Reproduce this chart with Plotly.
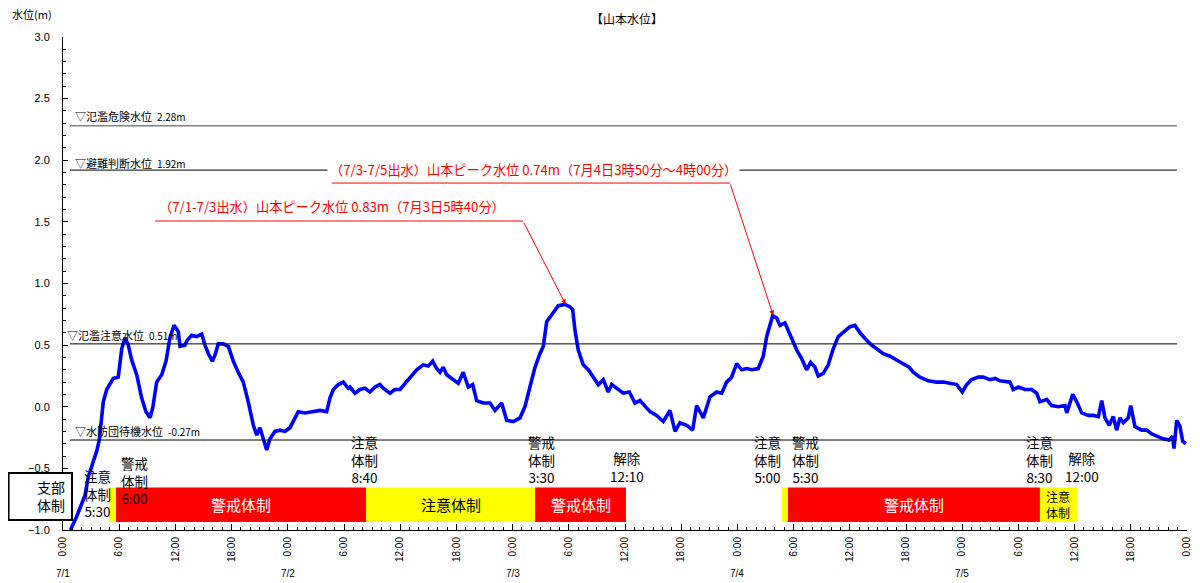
import plotly.graph_objects as go

# ---- water level series (hours since 7/1 0:00, metres) ----
hours = [0.75, 0.85, 1.46, 2.35, 2.70, 3.23, 3.60, 3.88, 4.13, 4.30, 4.67, 5.02, 5.37, 5.90, 6.27, 6.62, 6.97,
         7.33, 7.87, 8.40, 8.86, 9.29, 9.58, 10.00, 10.54, 11.00, 11.42, 11.85, 12.31, 12.49, 13.02, 13.27,
         13.74, 14.27, 14.81, 15.16, 15.52, 15.94, 16.23, 16.58, 17.11, 17.65, 18.18, 18.71, 19.25, 19.78,
         20.32, 20.68, 21.03, 21.38, 21.75, 22.10, 22.63, 23.17, 23.70, 24.23, 24.59, 25.12, 25.84, 26.72,
         27.44, 28.15, 28.50, 28.86, 29.39, 29.93, 30.46, 30.64, 31.17, 31.71, 32.24, 32.77, 33.31, 33.84,
         34.19, 34.91, 35.44, 35.98, 36.51, 37.04, 37.76, 38.46, 39.00, 39.47, 39.89, 40.25, 40.60, 40.96,
         41.67, 42.20, 42.73, 43.27, 43.74, 44.16, 44.87, 45.58, 46.12, 46.83, 47.37, 48.07, 48.79, 49.32,
         49.85, 50.39, 50.92, 51.28, 51.64, 52.34, 52.88, 53.59, 54.13, 54.41, 54.66, 55.01, 55.54, 56.08,
         56.61, 57.15, 57.68, 58.21, 58.58, 59.11, 59.82, 60.46, 61.07, 61.60, 62.13, 62.67, 63.38, 64.09,
         64.80, 65.34, 65.87, 66.58, 67.22, 67.65, 68.36, 69.07, 69.78, 70.32, 70.85, 71.38, 71.92, 72.45,
         72.99, 73.52, 74.23, 74.76, 75.13, 75.77, 76.19, 76.55, 77.08, 77.61, 77.96, 78.33, 78.86, 79.39,
         79.82, 80.28, 80.63, 81.17, 81.70, 82.23, 82.77, 83.48, 84.02, 84.55, 85.09, 85.80, 86.33, 86.87,
         87.57, 88.29, 89.00, 89.71, 90.35, 90.77, 91.49, 92.37, 93.27, 93.98, 94.69, 95.41, 96.01, 96.48,
         97.01, 97.72, 98.25, 98.97, 99.50, 100.03, 101.10, 101.45, 101.99, 102.70, 103.42, 103.95, 104.30,
         105.02, 105.55, 106.26, 106.98, 107.16, 107.80, 108.23, 108.76, 109.47, 110.00, 110.54, 110.90,
         111.24, 111.70, 112.13, 112.49, 112.84, 113.20, 113.73, 113.99, 114.44, 115.16, 115.69, 116.23,
         116.76, 117.47, 118.11, 118.47, 118.61, 118.90, 119.25, 119.54, 119.89]
level = [-1.00, -0.99, -0.89, -0.72, -0.57, -0.45, -0.36, -0.27, -0.12, 0.04, 0.14, 0.18, 0.23, 0.24, 0.47, 0.56, 0.50,
         0.38, 0.26, 0.07, -0.04, -0.09, -0.01, 0.20, 0.26, 0.37, 0.56, 0.66, 0.61, 0.49, 0.50, 0.54,
         0.58, 0.57, 0.59, 0.50, 0.43, 0.37, 0.42, 0.51, 0.51, 0.49, 0.37, 0.28, 0.20, 0.04,
         -0.15, -0.23, -0.17, -0.26, -0.35, -0.26, -0.20, -0.19, -0.20, -0.17, -0.12, -0.04, -0.05, -0.04,
         -0.03, -0.04, 0.07, 0.14, 0.18, 0.20, 0.15, 0.16, 0.11, 0.14, 0.15, 0.12, 0.16, 0.18,
         0.15, 0.11, 0.14, 0.14, 0.19, 0.24, 0.30, 0.34, 0.33, 0.37, 0.31, 0.28, 0.32, 0.26,
         0.22, 0.19, 0.28, 0.16, 0.18, 0.05, 0.03, 0.03, -0.03, 0.03, -0.11, -0.12, -0.09, 0.00,
         0.16, 0.32, 0.43, 0.49, 0.69, 0.76, 0.82, 0.83, 0.81, 0.79, 0.62, 0.46, 0.34, 0.30,
         0.24, 0.18, 0.22, 0.12, 0.18, 0.15, 0.11, 0.12, 0.03, 0.05, 0.01, -0.04, -0.07, -0.12,
         -0.03, -0.20, -0.13, -0.15, -0.19, 0.01, -0.09, 0.08, 0.12, 0.11, 0.20, 0.24, 0.35, 0.30,
         0.31, 0.30, 0.31, 0.41, 0.57, 0.74, 0.72, 0.66, 0.68, 0.58, 0.53, 0.46, 0.39, 0.30,
         0.36, 0.32, 0.25, 0.27, 0.34, 0.47, 0.57, 0.62, 0.65, 0.66, 0.60, 0.54, 0.50, 0.47,
         0.43, 0.41, 0.38, 0.35, 0.32, 0.28, 0.24, 0.21, 0.20, 0.20, 0.19, 0.18, 0.12, 0.18,
         0.22, 0.24, 0.24, 0.22, 0.23, 0.21, 0.20, 0.14, 0.16, 0.14, 0.14, 0.11, 0.04,
         0.06, 0.01, 0.00, 0.01, -0.05, 0.10, 0.04, -0.05, -0.07, -0.07, -0.08, 0.05,
         -0.09, -0.15, -0.08, -0.19, -0.09, -0.13, -0.09, 0.01, -0.16, -0.19, -0.19, -0.22,
         -0.24, -0.26, -0.27, -0.24, -0.34, -0.11, -0.16, -0.28, -0.30]

# ---- reference levels ----
ref_levels = [2.28, 1.92, 0.51, -0.27]
ref_names = ["▽氾濫危険水位", "▽避難判断水位", "▽氾濫注意水位", "▽水防団待機水位"]
ref_value_text = ["2.28m", "1.92m", "0.51m", "-0.27m"]
ref_colors = ["#808080", "#000000", "#000000", "#000000"]

# ---- peaks ----
peak_hours = [53.67, 75.83]
peak_levels = [0.83, 0.74]
peak_texts = ["（7/1-7/3出水）山本ピーク水位 0.83m（7月3日5時40分）",
              "（7/3-7/5出水）山本ピーク水位 0.74m（7月4日3時50分～4時00分）"]

# ---- response regime bars ----
regime_start = [4.9, 5.66, 32.35, 50.4, 76.76, 77.4, 104.3]
regime_end = [5.66, 32.35, 50.4, 60.1, 77.4, 104.3, 108.25]
regime_type = ["注意", "警戒", "注意", "警戒", "注意", "警戒", "注意"]
regime_label = ["", "警戒体制", "注意体制", "警戒体制", "", "警戒体制", "注意<br>体制"]

# ---- event labels ----
event_texts = ["注意<br>体制<br>5:30", "警戒<br>体制<br>6:00", "注意<br>体制<br>8:40", "警戒<br>体制<br>3:30",
               "解除<br>12:10", "注意<br>体制<br>5:00", "警戒<br>体制<br>5:30", "注意<br>体制<br>8:30",
               "解除<br>12:00"]
event_hours = [3.63, 7.69, 32.24, 51.14, 60.21, 75.26, 79.32, 104.2, 108.79]

tick_hours = list(range(0, 121, 6))
tick_text = ["0:00", "6:00", "12:00", "18:00"] * 5 + ["0:00"]
day_hours = [0, 24, 48, 72, 96]
day_labels = ["7/1", "7/2", "7/3", "7/4", "7/5"]

JP = "Noto Sans CJK JP"
NUM = "Liberation Sans, Noto Sans CJK JP"

# page body has an 8px default margin: plot area placed so it lands at x 63-1187, y 37-530 on screen
ML, MT, MR, MB = 55, 29, 21, 61
PW = 1200 - ML - MR

fig = go.Figure()
fig.add_trace(go.Scatter(x=hours, y=level, mode="lines",
                         line=dict(color="#0000FF", width=3.6), hoverinfo="skip", showlegend=False))

shapes = []
annotations = []

# reference lines + labels
label_x = [0.0089, 0.0089, 0.0018, 0.0089]
label_shift = [10, 7, 9, 9]
for lv, nm, vt, col, lx, ys in zip(ref_levels, ref_names, ref_value_text, ref_colors, label_x, label_shift):
    shapes.append(dict(type="line", xref="paper", yref="y", x0=0.0062, x1=0.9911, y0=lv, y1=lv,
                       line=dict(color=col, width=1.5 if col != "#000000" else 1)))
    annotations.append(dict(xref="paper", yref="y", x=lx, y=lv, yshift=ys, xanchor="left", yanchor="middle",
                            showarrow=False, text=nm + "\u00a0\u00a0" + "<span style='font-size:10px'>" + vt + "</span>",
                            font=dict(family=JP, size=11, color="#000000")))

# peak annotations
underline_x0 = [9.82, 28.69]
underline_x1 = [49.11, 71.2]
underline_y = [1.507, 1.815]
text_x = [28.77, 50.28]
text_y = [1.621, 1.921]
for ph, pl, pt, ux0, ux1, uy, tx, ty in zip(peak_hours, peak_levels, peak_texts, underline_x0, underline_x1,
                                             underline_y, text_x, text_y):
    shapes.append(dict(type="line", xref="x", yref="y", x0=ux0, x1=ux1, y0=uy, y1=uy,
                       line=dict(color="#FF0000", width=1)))
    annotations.append(dict(xref="x", yref="y", x=ph, y=pl, ax=ux1, ay=uy, axref="x", ayref="y",
                            text="", showarrow=True, arrowhead=2, arrowsize=1, arrowwidth=1,
                            arrowcolor="#FF0000", standoff=0))
    annotations.append(dict(xref="x", yref="y", x=tx, y=ty, showarrow=False, text=pt,
                            bgcolor="#FFFFFF", borderpad=2,
                            font=dict(family=JP, size=13.2, color="#FF0000")))

# regime bars
bar_y0, bar_y1 = -0.935, -0.655
for s, e, t, lab in zip(regime_start, regime_end, regime_type, regime_label):
    col = "#FF0000" if t == "警戒" else "#FFFF00"
    shapes.append(dict(type="rect", xref="x", yref="y", x0=s, x1=e, y0=bar_y0, y1=bar_y1,
                       fillcolor=col, line=dict(width=0), layer="above"))
    if lab:
        small = "<br>" in lab
        annotations.append(dict(xref="x", yref="y", x=(s + e) / 2, y=(bar_y0 + bar_y1) / 2, showarrow=False,
                                text=lab,
                                font=dict(family=JP, size=12 if small else 15,
                                          color="#FFFFFF" if t == "警戒" else "#000000")))

# event labels
event_y = [-0.701, -0.602, -0.432, -0.432, -0.485, -0.432, -0.432, -0.432, -0.485]
for et, eh, ey in zip(event_texts, event_hours, event_y):
    annotations.append(dict(xref="x", yref="y", x=eh, y=ey, showarrow=False, text=et,
                            font=dict(family=JP, size=13.5, color="#000000")))

# 支部体制 box
shapes.append(dict(type="rect", xref="paper", yref="y", x0=-ML / PW + 0.0005, x1=0.008, y0=-0.919, y1=-0.5375,
                   fillcolor="#FFFFFF", line=dict(color="#000000", width=2), layer="above"))
annotations.append(dict(xref="paper", yref="y", x=-0.0245, y=-0.728, showarrow=False, text="支部<br>体制",
                        font=dict(family=JP, size=14, color="#000000")))

# day labels
for dh, dl in zip(day_hours, day_labels):
    annotations.append(dict(xref="x", yref="paper", x=dh, y=0, yshift=-43, yanchor="middle", showarrow=False,
                            text=dl, font=dict(family=NUM, size=10, color="#000000")))

# titles
annotations.append(dict(xref="paper", yref="paper", x=0.502, y=1, yshift=19, showarrow=False, yanchor="middle",
                        text="【山本水位】", font=dict(family=JP, size=12, color="#000000")))
annotations.append(dict(xref="paper", yref="paper", x=-0.0276, y=1, yshift=23, showarrow=False,
                        xanchor="center", yanchor="middle",
                        text="水位(m)", font=dict(family=JP, size=11, color="#000000")))

fig.update_layout(
    width=1200, height=583,
    margin=dict(l=ML, r=MR, t=MT, b=MB, autoexpand=False),
    paper_bgcolor="#FFFFFF", plot_bgcolor="#FFFFFF",
    showlegend=False,
    shapes=shapes, annotations=annotations,
    xaxis=dict(range=[0, 120], showgrid=False, zeroline=False, showline=True, linecolor="#000000", linewidth=1,
               tickmode="array", tickvals=tick_hours, ticktext=tick_text, tickangle=-90,
               ticks="inside", ticklen=6, tickcolor="#000000", ticklabelstandoff=2,
               minor=dict(tickmode="linear", tick0=0, dtick=1, ticks="inside", ticklen=3, tickcolor="#000000"),
               tickfont=dict(family=NUM, size=10, color="#000000")),
    yaxis=dict(range=[-1, 3], showgrid=False, zeroline=False, showline=True, linecolor="#000000", linewidth=1,
               dtick=0.5, tick0=0, tickformat=".1f", ticks="inside", ticklen=5, tickcolor="#000000",
               ticklabelstandoff=10,
               minor=dict(dtick=0.1, ticks="inside", ticklen=3, tickcolor="#000000"),
               tickfont=dict(family=NUM, size=11, color="#000000")),
)

fig.write_html("out.html")
